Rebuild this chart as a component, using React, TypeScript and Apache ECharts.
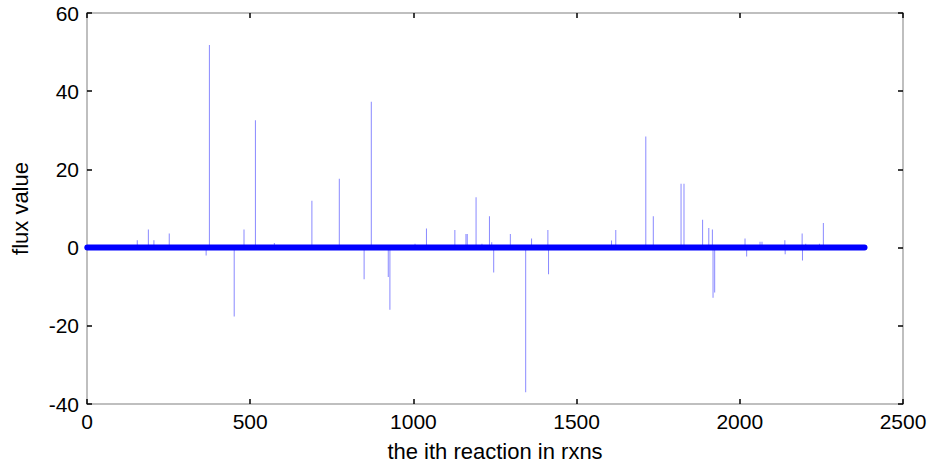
import React, { useEffect, useRef } from "react";
import * as echarts from "echarts";

// reaction index of each non-zero flux and its value
const spikeX = [154, 188, 205, 252, 365, 375, 451, 481, 516, 574, 689, 773, 849, 871, 923, 928, 1005, 1040, 1127, 1161, 1165, 1192, 1210, 1233, 1240, 1246, 1297, 1344, 1362, 1412, 1414, 1607, 1620, 1712, 1735, 1820, 1829, 1886, 1905, 1916, 1918, 1923, 2016, 2021, 2062, 2068, 2138, 2139, 2191, 2192, 2202, 2244, 2256];
const spikeY = [1.9, 4.6, 1.9, 3.6, -2.0, 51.8, -17.6, 4.6, 32.6, 1.2, 12.0, 17.6, -8.1, 37.3, -7.5, -15.9, 1.0, 4.9, 4.5, 3.5, 3.5, 12.9, 1.0, 8.0, 1.4, -6.4, 3.5, -37.0, 2.3, 4.5, -6.8, 1.8, 4.5, 28.4, 8.0, 16.3, 16.3, 7.1, 5.0, 4.6, -12.8, -11.5, 2.3, -2.3, 1.5, 1.5, 1.9, -1.7, 3.6, -3.3, 1.0, 1.0, 6.3];

// first and last reaction (all others carry zero flux)
const bandX = [1, 2382];
const bandY = [0, 0];

const xTicks = { min: 0, max: 2500, interval: 500 };
const yTicks = { min: -40, max: 60, interval: 20 };

const xTitle = "the ith reaction in rxns";
const yTitle = "flux value";

export default function App() {
  const ref = useRef<HTMLDivElement>(null);
  useEffect(() => {
    if (!ref.current) return;
    const chart = echarts.init(ref.current, undefined, { renderer: "svg" });
    const font = "'Liberation Sans', Arial, Helvetica, sans-serif";
    const axisLine = { show: true, onZero: false, lineStyle: { color: "#bfbfbf", width: 2 } };
    const tick = { show: true, inside: true, length: 5, lineStyle: { color: "#000", width: 1.5 } };
    const label = { color: "#000", fontSize: 21, fontFamily: font, formatter: (v: number) => String(v) };
    chart.setOption({
      animation: false,
      backgroundColor: "#fff",
      grid: { left: 87, right: 27, top: 13, bottom: 62, containLabel: false },
      xAxis: [
        {
          type: "value",
          position: "bottom",
          ...xTicks,
          axisLine,
          axisTick: tick,
          axisLabel: { ...label, margin: 7 },
          splitLine: { show: false },
          name: xTitle,
          nameLocation: "middle",
          nameGap: 36,
          nameTextStyle: { color: "#000", fontSize: 22, fontFamily: font },
        },
        {
          type: "value",
          position: "top",
          ...xTicks,
          axisLine,
          axisTick: tick,
          axisLabel: { show: false },
          splitLine: { show: false },
        },
      ],
      yAxis: [
        {
          type: "value",
          position: "left",
          ...yTicks,
          axisLine,
          axisTick: tick,
          axisLabel: { ...label, margin: 8 },
          splitLine: { show: false },
          name: yTitle,
          nameLocation: "middle",
          nameGap: 56,
          nameTextStyle: { color: "#000", fontSize: 22, fontFamily: font },
        },
        {
          type: "value",
          position: "right",
          ...yTicks,
          axisLine,
          axisTick: tick,
          axisLabel: { show: false },
          splitLine: { show: false },
        },
      ],
      series: [
        {
          type: "bar",
          xAxisIndex: 0,
          yAxisIndex: 0,
          barWidth: 1,
          itemStyle: { color: "rgba(40,40,255,0.55)" },
          data: spikeX.map((x, i) => [x, spikeY[i]]),
          z: 2,
        },
        {
          type: "line",
          xAxisIndex: 0,
          yAxisIndex: 0,
          symbol: "none",
          lineStyle: { color: "#0000ff", width: 6, cap: "round" },
          data: bandX.map((x, i) => [x, bandY[i]]),
          z: 3,
        },
      ],
    });
    return () => chart.dispose();
  }, []);
  return (
    <div
      ref={ref}
      style={{ position: "fixed", left: 0, top: 0, width: 930, height: 467 }}
    />
  );
}
